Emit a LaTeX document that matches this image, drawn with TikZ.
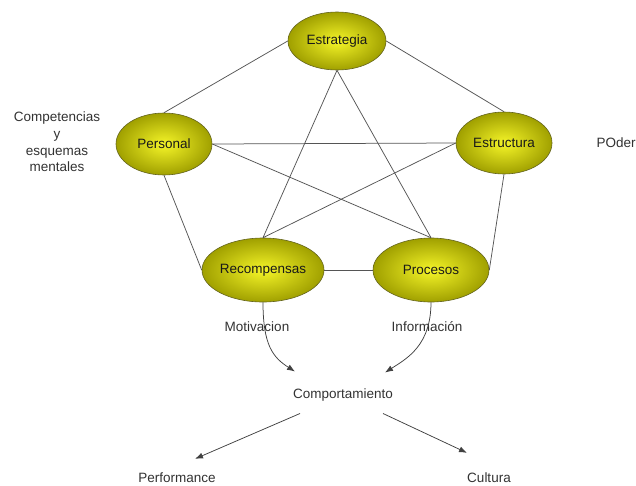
\documentclass[tikz,border=0pt]{standalone}
\usepackage{fontspec}
\setmainfont{Liberation Sans}
\usetikzlibrary{arrows.meta,shapes.geometric}
\definecolor{ellin}{RGB}{245,245,40}
\definecolor{ellout}{RGB}{160,160,0}
\definecolor{ellrim}{RGB}{100,100,30}
\definecolor{linegray}{RGB}{85,85,85}
\definecolor{txtgray}{RGB}{50,50,50}

\begin{document}
\begin{tikzpicture}[x=1pt,y=-1pt,font=\fontsize{13.5}{16.7}\selectfont,
  >={Latex[length=8pt,width=6pt]},
  factor/.style={ellipse,draw=ellrim,line width=0.6pt,inner sep=0pt,
    shading=radial,inner color=ellin,outer color=ellout,text=black!90},
  small/.style={factor,minimum width=96pt,minimum height=62pt},
  wide/.style={factor,minimum width=116pt,minimum height=64pt},
  link/.style={draw=linegray,line width=0.75pt},
  flow/.style={link,->,draw=black!75},
  lbl/.style={text=txtgray,align=center,inner sep=0pt}]
\useasboundingbox (0,0) rectangle (636,485);
% the five factors
\node[factor,minimum width=98pt,minimum height=58pt] (estr) at (337,41) {Estrategia};
\node[small] (pers) at (164,144) {Personal};
\node[small] (estc) at (504,143) {Estructura};
\node[wide] (reco) at (263,270) {Recompensas};
\node[wide] (proc) at (431,270) {Procesos};
% pentagon and star
\draw[link] (estr.west) -- (pers.north);
\draw[link] (estr.east) -- (estc.north);
\draw[link] (pers.east) -- (estc.west);
\draw[link] (pers.south) -- (reco.west);
\draw[link] (estc.south) -- (proc.east);
\draw[link] (reco.east) -- (proc.west);
\draw[link] (estr.south) -- (reco.north);
\draw[link] (estr.south) -- (proc.north);
\draw[link] (pers.east) -- (proc.north);
\draw[link] (estc.west) -- (reco.north);
% side labels
\node[lbl] (comps) at (57,142) {Competencias\\y\\esquemas\\mentales};
\node[lbl] (pode) at (616,143) {POder};
% outcomes
\node[lbl] (moti) at (257,327) {Motivacion};
\node[lbl] (info) at (427,327) {Información};
\node[lbl] (comp) at (343,395) {Comportamiento};
\node[lbl] (perf) at (177,478) {Performance};
\node[lbl] (cult) at (489,478) {Cultura};
\coordinate (inL) at ([shift={(-48,-17)}]comp.north);
\coordinate (inR) at ([shift={(42,-16)}]comp.north);
\draw[flow] (reco.south) .. controls +(0,43) and +(-22,-14) .. (inL);
\draw[flow] (proc.south) .. controls +(0,43) and +(22,-14) .. (inR);
\draw[flow] ([shift={(-43,12)}]comp.south) -- ([shift={(18,-14)}]perf.north);
\draw[flow] ([shift={(40,12)}]comp.south) -- ([shift={(-22,-20)}]cult.north);
\end{tikzpicture}
\end{document}
